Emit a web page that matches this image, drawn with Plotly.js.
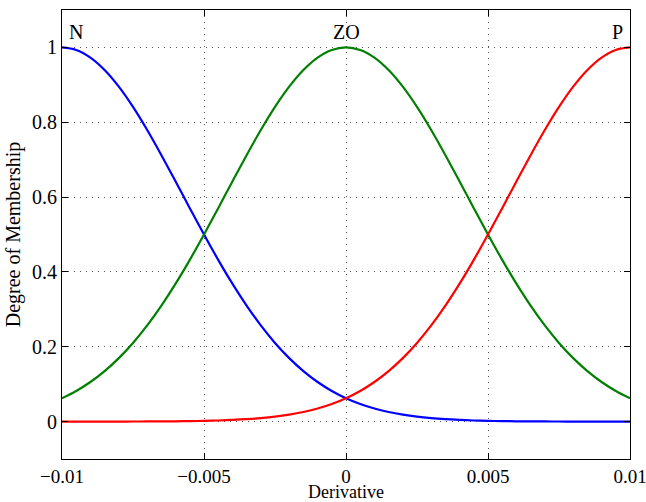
<!DOCTYPE html>
<html><head><meta charset="utf-8">
<script src="https://cdn.plot.ly/plotly-3.0.1.min.js"></script>
<style>html,body{margin:0;padding:0;background:#fff}#c{width:646px;height:502px}</style>
</head><body><div id="c"></div>
<script>
var xVals = [-0.01,-0.0095,-0.009,-0.0085,-0.008,-0.0075,-0.007,-0.0065,-0.006,-0.0055,-0.005,-0.0045,-0.004,-0.0035,-0.003,-0.0025,-0.002,-0.0015,-0.001,-0.0005,0,0.0005,0.001,0.0015,0.002,0.0025,0.003,0.0035,0.004,0.0045,0.005,0.0055,0.006,0.0065,0.007,0.0075,0.008,0.0085,0.009,0.0095,0.01];
var nVals = [1,0.9931,0.9727,0.9395,0.8950,0.8409,0.7792,0.7120,0.6417,0.5704,0.5,0.4323,0.3686,0.3099,0.2570,0.2102,0.1696,0.1349,0.1058,0.0819,0.0625,0.0470,0.0349,0.0256,0.0185,0.0131,0.0092,0.0064,0.0044,0.0029,0.0020,0.0013,0.0008,0.0005,0.0003,0.0002,0.0001,0.0001,0,0,0];
var zoVals = [0.0625,0.0819,0.1058,0.1349,0.1696,0.2102,0.2570,0.3099,0.3686,0.4323,0.5,0.5704,0.6417,0.7120,0.7792,0.8409,0.8950,0.9395,0.9727,0.9931,1,0.9931,0.9727,0.9395,0.8950,0.8409,0.7792,0.7120,0.6417,0.5704,0.5,0.4323,0.3686,0.3099,0.2570,0.2102,0.1696,0.1349,0.1058,0.0819,0.0625];
var pVals = [0,0,0,0.0001,0.0001,0.0002,0.0003,0.0005,0.0008,0.0013,0.0020,0.0029,0.0044,0.0064,0.0092,0.0131,0.0185,0.0256,0.0349,0.0470,0.0625,0.0819,0.1058,0.1349,0.1696,0.2102,0.2570,0.3099,0.3686,0.4323,0.5,0.5704,0.6417,0.7120,0.7792,0.8409,0.8950,0.9395,0.9727,0.9931,1];
var labels = ['N','ZO','P'];
var labelX = [-0.0095,0,0.00955];
var labelY = [1.04,1.04,1.04];
var xTicks = [-0.01,-0.005,0,0.005,0.01];
var xTickText = ['\u22120.01','\u22120.005','0','0.005','0.01'];
var yTicks = [0,0.2,0.4,0.6,0.8,1];
var yTickText = ['0','0.2','0.4','0.6','0.8','1'];

var font = 'Liberation Serif, Times New Roman, serif';
var traces = [
  {x:xVals,y:nVals,mode:'lines',line:{color:'#0000ff',width:2.2,shape:'spline'}},
  {x:xVals,y:zoVals,mode:'lines',line:{color:'#008000',width:2.2,shape:'spline'}},
  {x:xVals,y:pVals,mode:'lines',line:{color:'#ff0000',width:2.2,shape:'spline'}}
];
var ann = labels.map(function(t,i){return {x:labelX[i],y:labelY[i],text:t,showarrow:false,xref:'x',yref:'y',font:{family:font,size:20,color:'#000'}};});
var axisCommon = {showline:true,linecolor:'#000',linewidth:1,mirror:'ticks',ticks:'inside',ticklen:6,tickcolor:'#000',
  showgrid:true,gridcolor:'#555',griddash:'1px,5px',gridwidth:1,zeroline:false,ticklabeloverflow:'allow',
  tickfont:{family:font,size:20,color:'#000'}};
var layout = {
  width:646,height:502,margin:{l:62,r:16,t:10,b:43},
  paper_bgcolor:'#fff',plot_bgcolor:'#fff',showlegend:false,
  xaxis:Object.assign({},axisCommon,{range:[-0.01,0.01],tickmode:'array',tickvals:xTicks,ticktext:xTickText,
    tickfont:{family:font,size:19,color:'#000'},
    title:{text:'Derivative',font:{family:font,size:18,color:'#000'},standoff:3}}),
  yaxis:Object.assign({},axisCommon,{range:[-0.1,1.1],tickmode:'array',tickvals:yTicks,ticktext:yTickText,
    title:{text:'Degree of Membership',font:{family:font,size:20,color:'#000'},standoff:6}}),
  annotations:ann
};
Plotly.newPlot('c',traces,layout,{staticPlot:true,displayModeBar:false});
</script></body></html>
